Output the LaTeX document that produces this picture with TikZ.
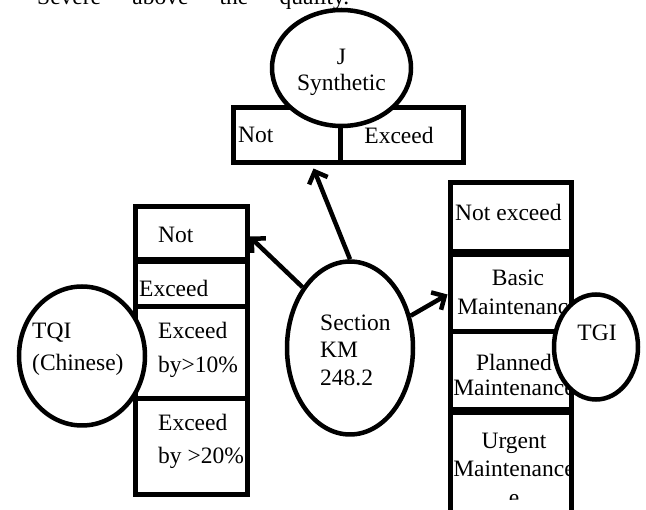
\documentclass[tikz,border=0pt]{standalone}
\usepackage{fontspec}
\setmainfont{Liberation Serif}
\usetikzlibrary{shapes.geometric,arrows.meta}
\begin{document}
\begin{tikzpicture}[x=1pt,y=-1pt,
  box/.style={draw,line width=5pt,rectangle,inner sep=0pt,fill=white},
  oval/.style={draw,ellipse,line width=4.5pt,inner sep=0pt,fill=white},
  lbl/.style={inner sep=0pt,font=\fontsize{23.5}{28}\selectfont},
  arr/.style={line width=4.5pt,-{Straight Barb[length=10pt,width=20pt]}}]
\useasboundingbox (0,0) rectangle (646,510);
\fill[white] (0,0) rectangle (646,510);

% clipped caption sliver at the top
\begin{scope}
\clip (0,0) rectangle (646,12);
\node[lbl,anchor=base west] (cap) at (37,5) {\makebox[312pt][s]{Severe above the quality.}};
\end{scope}

% J Synthetic group
\node[box,minimum width=107pt,minimum height=55pt] (tn) at (286.5,135.5) {};
\node[box,minimum width=123pt,minimum height=55pt] (te) at (401.5,135.5) {};
\node[lbl,anchor=west] (tnt) at (238,135) {Not};
\node[lbl] (tet) at (399,135) {Exceed};
\node[oval,minimum width=139pt,minimum height=116pt] (j) at (341.5,68) {};
\node[lbl,align=center,font=\fontsize{23.5}{26}\selectfont] (jt) at (341.5,72) {J\\Synthetic};

% left column (TQI)
\node[box,minimum width=112pt,minimum height=53pt] (l1) at (191,233.5) {};
\node[box,minimum width=112pt,minimum height=45pt] (l2) at (191,284.5) {};
\node[box,minimum width=112pt,minimum height=92pt] (l3) at (191,353) {};
\node[box,minimum width=112pt,minimum height=96pt] (l4) at (191,447) {};
\node[lbl,anchor=west] (l1t) at (158,235) {Not};
\node[lbl,anchor=west] (l2t) at (139,288) {Exceed};
\node[lbl,anchor=west,align=left,font=\fontsize{23.5}{34}\selectfont] (l3t) at (158,350) {Exceed\\by>10\%};
\node[lbl,anchor=west,align=left,font=\fontsize{23.5}{33}\selectfont] (l4t) at (158,441.5) {Exceed\\by >20\%};
\node[oval,minimum width=126pt,minimum height=139pt] (tqi) at (82,356) {};
\node[lbl,anchor=west,align=left,font=\fontsize{23.5}{32}\selectfont] (tqit) at (32,349) {TQI\\(Chinese)};

% right column (TGI)
\node[box,minimum width=121pt,minimum height=69pt] (r1) at (510.5,217.5) {};
\node[box,minimum width=121pt,minimum height=77pt] (r2) at (510.5,293.5) {};
\node[box,minimum width=121pt,minimum height=78pt] (r3) at (510.5,371) {};
\node[box,minimum width=121pt,minimum height=104pt] (r4) at (510.5,465) {};
\node[lbl,anchor=west] (r1t) at (455,212) {Not exceed};
\begin{scope}
\clip (452,257) rectangle (568,330);
\node[lbl,align=center,font=\fontsize{23.5}{29}\selectfont] (r2t) at (518,292.5) {Basic\\Maintenance};
\end{scope}
\begin{scope}
\clip (452,334) rectangle (568,408);
\node[lbl,align=center,font=\fontsize{23.5}{25}\selectfont] (r3t) at (514,374.5) {Planned\\Maintenance};
\end{scope}
\begin{scope}
\clip (452,415) rectangle (568,500);
\node[lbl,align=center,font=\fontsize{23.5}{28.5}\selectfont] (r4t) at (514,469) {Urgent\\Maintenance\\e};
\end{scope}
\node[oval,minimum width=84pt,minimum height=105pt] (tgi) at (596,347) {};
\node[lbl] (tgit) at (597,333) {TGI};

% centre ellipse
\node[oval,minimum width=126pt,minimum height=173pt] (sec) at (350,348) {};
\node[lbl,anchor=west,align=left,font=\fontsize{23.5}{27.5}\selectfont] (sect) at (320,350) {Section\\KM\\248.2};

% connectors
\draw[arr] (sec.north) -- ([xshift=27pt,yshift=-3pt]tn.south);
\draw[arr] (sec.128) -- ([yshift=-3pt]l1.east);
\draw[arr] (sec.28) -- ([yshift=-1pt]r2.west);
\end{tikzpicture}
\end{document}
